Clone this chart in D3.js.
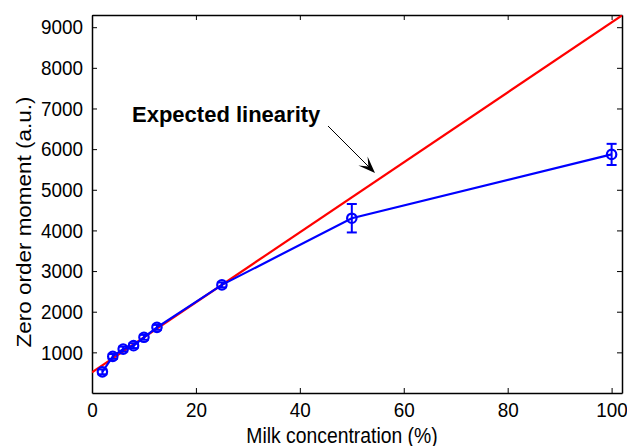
<!DOCTYPE html>
<html>
<head>
<meta charset="utf-8">
<script src="https://cdn.jsdelivr.net/npm/d3@7/dist/d3.min.js"></script>
<style>
  html, body { margin: 0; padding: 0; background: #fff; }
  svg { display: block; font-family: "Liberation Sans", Arial, sans-serif; }
</style>
</head>
<body>
<svg id="chart" width="627" height="446"></svg>
<script>
// ---- data ----
const milkConc = [2, 4, 6, 8, 10, 12.5, 25, 50, 100];
const zeroMoment = [520, 900, 1080, 1165, 1370, 1615, 2660, 4300, 5870];
const errors = [60, 60, 60, 60, 60, 60, 60, 350, 260];
const expectedX = [0, 102];
const expectedY = [510, 9290];
const xTicks = [0, 20, 40, 60, 80, 100];
const yTicks = [1000, 2000, 3000, 4000, 5000, 6000, 7000, 8000, 9000];
const annotation = "Expected linearity";
const xTitle = "Milk concentration (%)";
const yTitle = "Zero order moment (a.u.)";

// ---- layout ----
const W = 627, H = 446;
const m = { left: 92, right: 5, top: 15, bottom: 53 };
const pw = W - m.left - m.right, ph = H - m.top - m.bottom;
const sx = 0.9; // horizontal squeeze of glyphs, as in the reference

const svg = d3.select("#chart");
const x = d3.scaleLinear().domain([0, 102]).range([m.left, m.left + pw]);
const y = d3.scaleLinear().domain([0, 9300]).range([m.top + ph, m.top]);

svg.append("defs").append("clipPath").attr("id", "clip")
  .append("rect").attr("x", m.left).attr("y", m.top).attr("width", pw).attr("height", ph);

// axes
const tickLen = 5;
const fmt = d3.format("d");
const gx = svg.append("g").attr("transform", `translate(0,${m.top + ph})`)
  .call(d3.axisBottom(x).tickValues(xTicks).tickFormat(fmt).tickSizeInner(-tickLen).tickSizeOuter(0).tickPadding(9));
const gxt = svg.append("g").attr("transform", `translate(0,${m.top})`)
  .call(d3.axisTop(x).tickValues(xTicks).tickFormat("").tickSizeInner(-tickLen).tickSizeOuter(0));
const gy = svg.append("g").attr("transform", `translate(${m.left},0)`)
  .call(d3.axisLeft(y).tickValues(yTicks).tickFormat(fmt).tickSizeInner(-tickLen).tickSizeOuter(0).tickPadding(9 / sx));
const gyr = svg.append("g").attr("transform", `translate(${m.left + pw},0)`)
  .call(d3.axisRight(y).tickValues(yTicks).tickFormat("").tickSizeInner(-tickLen).tickSizeOuter(0));

[gx, gxt, gy, gyr].forEach(g => {
  g.select(".domain").attr("stroke", "#000").attr("stroke-width", 1.5);
  g.selectAll(".tick line").attr("stroke", "#000").attr("stroke-width", 1);
  g.selectAll("text").attr("fill", "#000").style("font-size", "21px")
    .style("font-family", "'Liberation Sans', Arial, sans-serif")
    .attr("transform", `scale(${sx},1)`);
});

const plot = svg.append("g").attr("clip-path", "url(#clip)");

// red expected line
const expData = expectedX.map((d, i) => [d, expectedY[i]]);
plot.append("path").datum(expData)
  .attr("fill", "none").attr("stroke", "#ff0000").attr("stroke-width", 2.2)
  .attr("d", d3.line().x(d => x(d[0])).y(d => y(d[1])));

// blue measured line
const meas = milkConc.map((d, i) => ({ x: d, y: zeroMoment[i], e: errors[i] }));
plot.append("path").datum(meas)
  .attr("fill", "none").attr("stroke", "#0000ff").attr("stroke-width", 2.2)
  .attr("d", d3.line().x(d => x(d.x)).y(d => y(d.y)));

// error bars
const capW = 5;
const eb = plot.append("g").attr("stroke", "#0000ff").attr("stroke-width", 2);
eb.selectAll("line.v").data(meas).join("line").attr("class", "v")
  .attr("x1", d => x(d.x)).attr("x2", d => x(d.x))
  .attr("y1", d => y(d.y - d.e)).attr("y2", d => y(d.y + d.e));
eb.selectAll("line.t").data(meas).join("line").attr("class", "t")
  .attr("x1", d => x(d.x) - capW).attr("x2", d => x(d.x) + capW)
  .attr("y1", d => y(d.y + d.e)).attr("y2", d => y(d.y + d.e));
eb.selectAll("line.b").data(meas).join("line").attr("class", "b")
  .attr("x1", d => x(d.x) - capW).attr("x2", d => x(d.x) + capW)
  .attr("y1", d => y(d.y - d.e)).attr("y2", d => y(d.y - d.e));

// markers
svg.append("g").selectAll("circle").data(meas).join("circle")
  .attr("cx", d => x(d.x)).attr("cy", d => y(d.y)).attr("r", 4.7)
  .attr("fill", "none").attr("stroke", "#0000ff").attr("stroke-width", 2.2);

// annotation
svg.append("text").attr("x", 132).attr("y", 122)
  .style("font-size", "22px").style("font-weight", "bold").attr("fill", "#000")
  .text(annotation);

// arrow
const ax1 = 328, ay1 = 126, ax2 = 375, ay2 = 173;
const ang = Math.atan2(ay2 - ay1, ax2 - ax1);
svg.append("line").attr("x1", ax1).attr("y1", ay1).attr("x2", ax2 - 6 * Math.cos(ang)).attr("y2", ay2 - 6 * Math.sin(ang))
  .attr("stroke", "#000").attr("stroke-width", 1);
const hl = 17, hw = 6.5;
const bx = ax2 - hl * Math.cos(ang), by = ay2 - hl * Math.sin(ang);
const px = -Math.sin(ang) * hw, py = Math.cos(ang) * hw;
const nb = 0.55;
const nx = ax2 - hl * nb * Math.cos(ang), ny = ay2 - hl * nb * Math.sin(ang);
svg.append("path")
  .attr("d", `M${ax2},${ay2} L${bx + px},${by + py} L${nx},${ny} L${bx - px},${by - py} Z`)
  .attr("fill", "#000");

// axis titles
svg.append("text").attr("transform", `translate(342,443) scale(${sx},1)`)
  .attr("text-anchor", "middle").style("font-size", "21.5px").attr("fill", "#000")
  .text(xTitle);
svg.append("text").attr("transform", `translate(31,222) rotate(-90) scale(1,${sx})`)
  .attr("text-anchor", "middle").style("font-size", "22.5px").attr("fill", "#000")
  .text(yTitle);
</script>
</body>
</html>
